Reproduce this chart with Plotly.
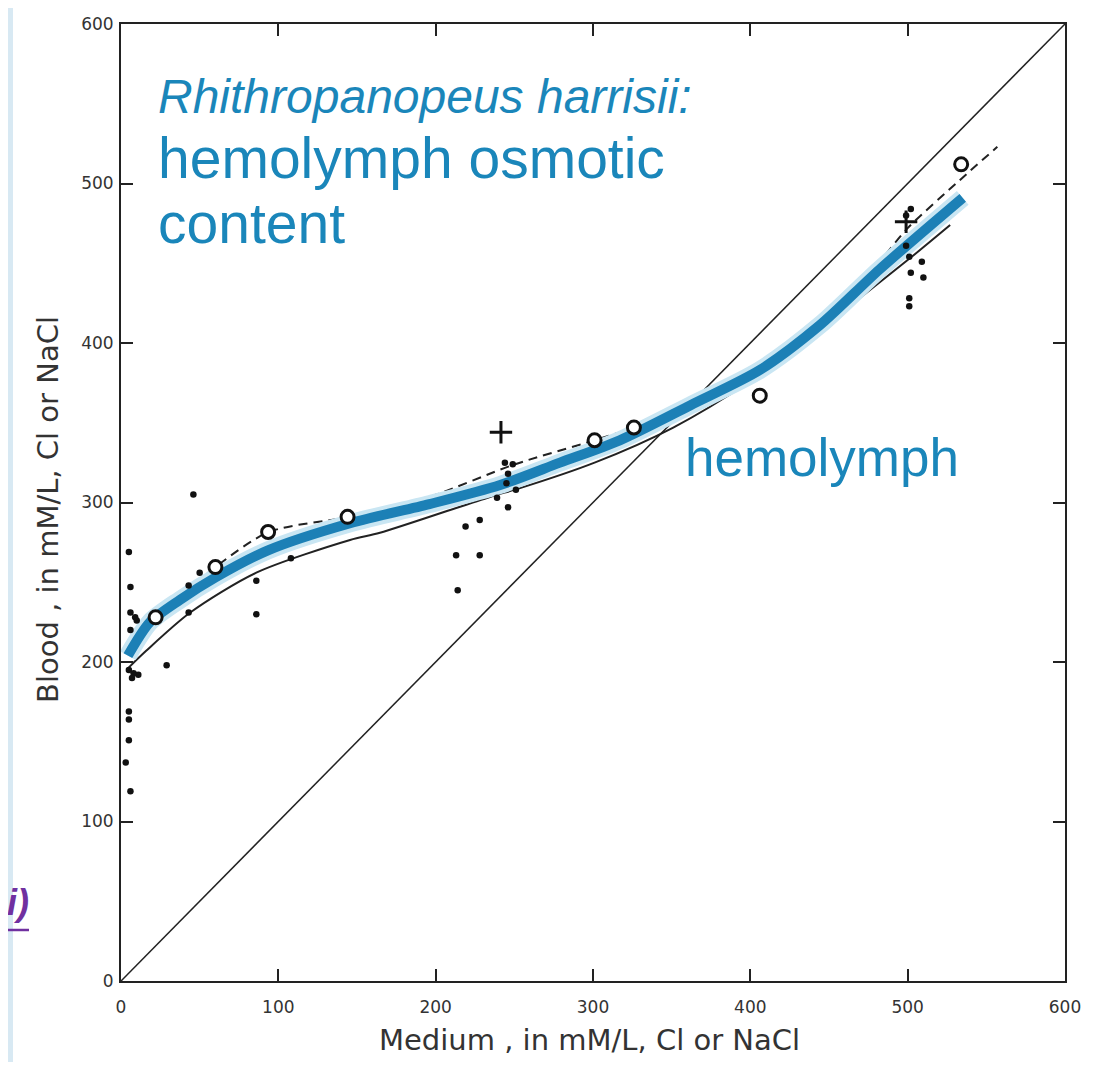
import plotly.graph_objects as go

# ---------------- data ----------------
diag_x = [0, 600]
diag_y = [0, 600]

blue_x = [4.4, 18.4, 37.5, 60, 93.4, 145.6, 196, 241, 279, 317, 362, 406, 444, 482, 535]
blue_y = [204, 225, 239, 253, 270, 287, 299, 311, 325, 339, 361, 383, 411, 446, 491]

dash_x = [5.7, 23, 60, 94, 145, 196, 249, 301, 326, 362, 406, 451, 482, 500, 533, 557]
dash_y = [211, 228, 259.5, 281.5, 291, 303.5, 323.5, 339, 347, 361, 383, 421, 451, 472, 502, 523]

solid_x = [4.4, 16, 44, 86, 145.6, 164.6, 234.5, 253.6, 301, 351, 400, 444, 463, 500, 527]
solid_y = [196, 207, 231, 256, 276.5, 281, 303.5, 309, 325, 347, 376, 408, 423, 452, 474]

dots_x = [5, 6, 6, 9, 10, 6, 29, 5, 8, 11, 7, 5, 5, 5, 3, 6, 43, 43, 46, 50, 86, 86, 108,
          213, 214, 219, 228, 228, 239, 244, 249, 245, 246, 251, 246,
          501, 509, 502, 510, 501, 501, 499, 502, 499]
dots_y = [269, 247, 231, 228, 226, 220, 198, 195, 193, 192, 190, 169, 164, 151, 137, 119, 248, 231, 305, 256, 251, 230, 265,
          267, 245, 285, 267, 289, 303, 325, 324, 312, 318, 308, 297,
          454, 451, 444, 441, 428, 423, 480, 484, 461]

circ_x = [22, 60, 93.5, 144, 301, 326, 406, 534]
circ_y = [228, 259.5, 281.5, 291, 339, 347, 367, 512]

plus_x = [241.5, 499]
plus_y = [344, 476]

tick_vals = [0, 100, 200, 300, 400, 500, 600]
tick_text = ["0", "100", "200", "300", "400", "500", "600"]

title_lines = ["Rhithropanopeus harrisii:", "hemolymph osmotic", "content"]
curve_label = "hemolymph"
x_title = "Medium , in mM/L, Cl or NaCl"
y_title = "Blood , in mM/L, Cl or NaCl"

# ---------------- figure ----------------
# page has an 8px body margin; figure is sized so that it fits the window
OFF = 8
W, H = 1087, 1054
PL, PR, PT, PB = 121, 1065, 24, 981          # plot box in page pixels
L, T = PL - OFF, PT - OFF
R = W - (PR - OFF)
B = H - (PB - OFF)
pw, ph = PR - PL, PB - PT

def px(x):
    return (x - PL) / pw

def py(y):
    return (PB - y) / ph

BLUE = "#1c80b6"
TXT_BLUE = "#1a86ba"
INK = "#222222"
LABEL_FONT = "DejaVu Sans, sans-serif"
SANS = "Liberation Sans, Arial, sans-serif"

fig = go.Figure()

fig.add_trace(go.Scatter(x=diag_x, y=diag_y, mode="lines",
                         line=dict(color=INK, width=1.5), hoverinfo="skip"))
fig.add_trace(go.Scatter(x=solid_x, y=solid_y, mode="lines",
                         line=dict(color=INK, width=2, shape="spline", smoothing=0.8)))
fig.add_trace(go.Scatter(x=dash_x, y=dash_y, mode="lines",
                         line=dict(color=INK, width=2, dash="9px,6px", shape="spline", smoothing=0.8)))
fig.add_trace(go.Scatter(x=blue_x, y=blue_y, mode="lines",
                         line=dict(color="#c9e6f3", width=18, shape="spline", smoothing=0.8)))
fig.add_trace(go.Scatter(x=blue_x, y=blue_y, mode="lines",
                         line=dict(color=BLUE, width=10, shape="spline", smoothing=0.8)))
fig.add_trace(go.Scatter(x=dots_x, y=dots_y, mode="markers",
                         marker=dict(color="#111111", size=6.5, symbol="circle")))
fig.add_trace(go.Scatter(x=circ_x, y=circ_y, mode="markers",
                         marker=dict(color="white", size=13, symbol="circle",
                                     line=dict(color="#111111", width=3))))
fig.add_trace(go.Scatter(x=plus_x, y=plus_y, mode="markers",
                         marker=dict(color="#111111", size=16, symbol="cross-thin",
                                     line=dict(color="#111111", width=3))))

axis_common = dict(range=[0, 600], tickvals=tick_vals, ticktext=tick_text,
                   ticks="inside", ticklen=12, tickwidth=1.5, tickcolor=INK,
                   showline=True, linecolor=INK, linewidth=2, mirror="ticks",
                   showgrid=False, zeroline=False,
                   tickfont=dict(family=LABEL_FONT, size=17, color="#333333"))

fig.update_xaxes(**axis_common, ticklabelstandoff=10)
fig.update_yaxes(**axis_common, ticklabelstandoff=2)

title_text = ('<span style="font-size:48px"><i>' + title_lines[0] + '</i></span><br>'
              '<span style="font-size:57px">' + title_lines[1] + '</span><br>'
              '<span style="font-size:57px">' + title_lines[2] + '</span>')

annotations = []
annotations.append(dict(x=px(156), y=py(68), xref="paper", yref="paper",
                        text=title_text, showarrow=False, align="left",
                        xanchor="left", yanchor="top",
                        font=dict(family=SANS, size=50, color=TXT_BLUE)))
annotations.append(dict(x=px(683), y=py(458), xref="paper", yref="paper",
                        text=curve_label, showarrow=False,
                        xanchor="left", yanchor="middle",
                        font=dict(family=SANS, size=53, color=TXT_BLUE)))
annotations.append(dict(x=px(589), y=py(1040), xref="paper", yref="paper",
                        text=x_title, showarrow=False,
                        xanchor="center", yanchor="middle",
                        font=dict(family=LABEL_FONT, size=29, color="#333333")))
annotations.append(dict(x=px(48), y=py(510), xref="paper", yref="paper",
                        text=y_title, showarrow=False, textangle=-90,
                        xanchor="center", yanchor="middle",
                        font=dict(family=LABEL_FONT, size=29, color="#333333")))
annotations.append(dict(x=px(31), y=py(902), xref="paper", yref="paper",
                        text="<i><b>i)</b></i>", showarrow=False,
                        xanchor="right", yanchor="middle",
                        font=dict(family=SANS, size=36, color="#7030a0")))

shapes = [
    dict(type="rect", xref="paper", yref="paper", x0=px(OFF), x1=px(13), y0=-B / ph, y1=1 + T / ph,
         fillcolor="#d8e9f3", line=dict(width=0), layer="below"),
    dict(type="line", xref="paper", yref="paper", x0=px(OFF), x1=px(29), y0=py(930), y1=py(930),
         line=dict(color="#7030a0", width=2.5)),
]

fig.update_layout(width=W, height=H, margin=dict(l=L, r=R, t=T, b=B, autoexpand=False),
                  paper_bgcolor="white", plot_bgcolor="white",
                  showlegend=False, annotations=annotations, shapes=shapes)

fig.write_html("out.html")
